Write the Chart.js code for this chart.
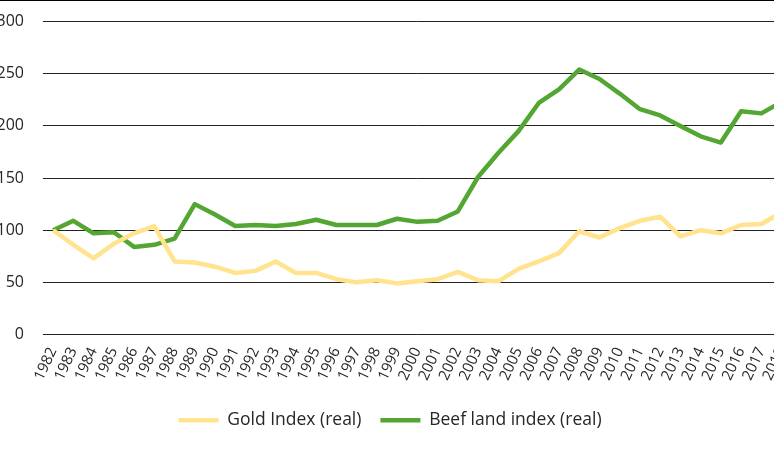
<!DOCTYPE html>
<html>
<head>
<meta charset="utf-8">
<script src="https://cdn.jsdelivr.net/npm/chart.js@4/dist/chart.umd.min.js"></script>
<style>
  html, body { margin: 0; padding: 0; background: #fff; overflow: hidden; }
  #wrap { position: absolute; left: -12px; top: -7px; width: 812px; height: 462px; }
</style>
</head>
<body>
<div id="wrap"><canvas id="chart"></canvas></div>
<script>
// ── data ──
const years = ['1982','1983','1984','1985','1986','1987','1988','1989','1990','1991',
  '1992','1993','1994','1995','1996','1997','1998','1999','2000','2001',
  '2002','2003','2004','2005','2006','2007','2008','2009','2010','2011',
  '2012','2013','2014','2015','2016','2017','2018'];

const goldIndex = [100, 86, 73, 87, 97, 104, 70, 69, 65, 59,
  61, 70, 59, 59, 53, 50, 52, 49, 51, 53,
  60, 52, 51, 63, 70, 78, 99, 93, 102, 109,
  113, 94, 100, 97, 105, 106, 117];

const beefLandIndex = [100, 109, 97, 98, 84, 86, 92, 125, 115, 104,
  105, 104, 106, 110, 105, 105, 105, 111, 108, 109,
  118, 151, 174, 195, 222, 235, 254, 245, 231, 216,
  210, 200, 190, 184, 214, 212, 223];

const yTicks = [0, 50, 100, 150, 200, 250, 300];

const txt = '#262626';
const font = '"Open Sans", Lato, sans-serif';

// thin frame line along the top edge of the picture
const topRule = {
  id: 'topRule',
  afterDraw(chart) {
    const c = chart.ctx;
    c.save();
    c.strokeStyle = '#000';
    c.lineWidth = 1;
    c.beginPath();
    c.moveTo(0, 7.5);
    c.lineTo(chart.width, 7.5);
    c.stroke();
    c.restore();
  }
};

new Chart(document.getElementById('chart').getContext('2d'), {
  type: 'line',
  data: {
    labels: years,
    datasets: [
      {
        label: 'Gold Index (real)',
        data: goldIndex,
        borderColor: '#FFE38F', backgroundColor: '#FFE38F',
        borderWidth: 4.5, pointRadius: 0, tension: 0,
        borderJoinStyle: 'round', fill: false
      },
      {
        label: 'Beef land index (real)',
        data: beefLandIndex,
        borderColor: '#53A632', backgroundColor: '#53A632',
        borderWidth: 4.5, pointRadius: 0, tension: 0,
        borderJoinStyle: 'round', fill: false
      }
    ]
  },
  options: {
    responsive: true,
    maintainAspectRatio: false,
    animation: false,
    layout: { padding: { top: 8, right: 8, left: 0, bottom: 16 } },
    plugins: {
      tooltip: { enabled: false },
      legend: {
        position: 'bottom',
        labels: {
          usePointStyle: true, pointStyle: 'line', pointStyleWidth: 40,
          padding: 19, color: txt, font: { family: font, size: 17.5 }
        }
      }
    },
    scales: {
      x: {
        offset: true,
        grid: { display: false },
        border: { display: false },
        ticks: {
          autoSkip: false, minRotation: 65, maxRotation: 65,
          color: txt, font: { family: font, size: 15 }, padding: 2
        },
        afterFit(scale) { scale.height = 58; }
      },
      y: {
        min: 0, max: 300,
        afterBuildTicks(scale) { scale.ticks = yTicks.map(v => ({ value: v })); },
        grid: { color: '#222', lineWidth: 1, drawTicks: false },
        border: { display: false },
        ticks: { color: txt, font: { family: font, size: 16 }, padding: 19 },
        afterFit(scale) { scale.width = 55; }
      }
    }
  },
  plugins: [topRule]
});
</script>
</body>
</html>
